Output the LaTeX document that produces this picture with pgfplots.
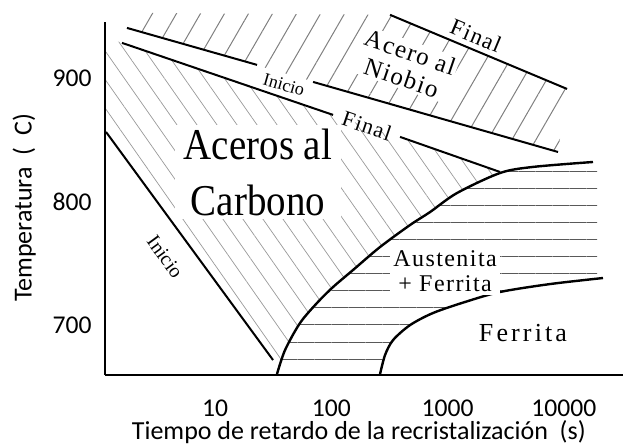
\documentclass[border=0pt]{standalone}
\usepackage{pgfplots}
\pgfplotsset{compat=1.18}
\usepackage{fontspec}
\setmainfont{Carlito}
\newfontfamily\serifL{Liberation Serif}
\newfontfamily\serifLS[LetterSpace=6]{Liberation Serif}
\newfontfamily\serifLW[LetterSpace=12]{Liberation Serif}
\usetikzlibrary{patterns.meta}

\begin{document}
\begin{tikzpicture}
\begin{axis}[
  scale only axis, width=259pt, height=176.5pt,
  xmin=0.054, xmax=4.508, ymin=660, ymax=945.7,
  axis lines=left, axis line style={-, line width=1pt},
  clip=false,
  xtick={1,2,3,4}, xticklabels={10,100,1000,10000},
  ytick={700,800,900},
  major tick length=0pt,
  tick label style={font=\fontsize{12.8}{14}\selectfont},
  /pgf/number format/assume math mode=true,
  xticklabel style={anchor=center, yshift=-16.5pt},
  yticklabel style={anchor=east, inner sep=0pt, xshift=-6.5pt},
  xlabel={Tiempo de retardo de la recristalización\ \ (s)},
  ylabel={Temperatura\ \ (\ \ C)},
  label style={font=\fontsize{13}{14}\selectfont},
  xlabel style={at={(axis description cs:0.49,0)}, anchor=center, yshift=-28.5pt},
  ylabel style={at={(axis description cs:-0.156,0.473)}, anchor=center},
]
\coordinate (O) at (rel axis cs:0,0);

% Niobio hatch
\addplot[draw=none, pattern={Lines[angle=60,distance=10.4pt,line width=0.5pt]}, pattern color=black!50]
  coordinates {(0.243,940.9) (3.949,840.5) (4.027,891.5) (2.505,951.5) (0.355,953.1)} -- cycle;

% Carbon hatch
\addplot[draw=none, pattern={Lines[angle=-55,distance=8.2pt,line width=0.35pt]}, pattern color=black!40]
  coordinates {(0.063,933.2) (2.015,870.5) (3.451,824.3) (3.081,807.3) (2.849,791.9) (2.677,781.4)
   (2.419,763.6) (2.187,745.0) (2.015,731.2) (1.877,718.3) (1.731,702.1) (1.602,680.2) (1.533,660.8)
   (1.499,672.1) (0.063,856.7)} -- cycle;

% Austenita + Ferrita hatch
\addplot[draw=none, pattern={Lines[angle=0,distance=8.5pt,line width=0.5pt]}, pattern color=black!65]
  coordinates {(1.533,660.8) (1.602,680.2) (1.731,702.1) (1.877,718.3) (2.015,731.2) (2.187,745.0)
   (2.419,763.6) (2.677,781.4) (2.849,791.9) (3.081,807.3) (3.451,823.5) (3.734,828.4) (4.250,832.4)
   (4.285,832.2) (4.285,738.0) (3.880,733.6) (3.451,727.2) (3.150,719.1) (2.875,710.2) (2.677,700.4)
   (2.531,688.3) (2.462,676.2) (2.419,660.8)} -- cycle;

% Niobio inicio
\addplot[black, line width=1pt, no marks] coordinates {(0.243,940.9) (1.361,911.0)};
\addplot[black, line width=1pt, no marks] coordinates {(1.843,897.2) (3.949,840.5)};
% Niobio final
\addplot[black, line width=1pt, no marks] coordinates {(2.505,951.5) (4.027,891.5)};
% Carbono final
\addplot[black, line width=1pt, no marks] coordinates {(0.200,928.8) (2.015,870.5)};
\addplot[black, line width=1pt, no marks] coordinates {(2.591,852.7) (3.451,824.3)};
% Carbono inicio
\addplot[black, line width=1pt, no marks] coordinates {(0.063,856.7) (1.499,672.1)};
% Ferrite start
\addplot[black, line width=1.2pt, no marks, smooth] coordinates {(1.533,660.8) (1.602,680.2) (1.731,702.1)
  (1.877,718.3) (2.015,731.2) (2.187,745.0) (2.419,763.6) (2.677,781.4) (2.849,791.9) (3.081,807.3)
  (3.451,823.5) (3.734,828.4) (4.250,832.4)};
% Ferrite finish
\addplot[black, line width=1.2pt, no marks, smooth] coordinates {(2.419,660.8) (2.462,676.2) (2.531,688.3)
  (2.677,700.4) (2.875,710.2) (3.150,719.1) (3.451,727.2) (3.880,733.6) (4.336,738.5)};

% labels
\node[fill=white, inner sep=1.5pt, minimum width=76pt, minimum height=47pt]
  at (axis cs:1.369,823.9) {\scalebox{0.885}[1]{\parbox{90pt}{\centering\serifL\fontsize{22}{28}\selectfont Aceros al\\Carbono}}};
\node[fill=white, align=center, inner sep=1pt, rotate=-19, font=\serifLS\fontsize{12.5}{13.5}\selectfont]
  at (axis cs:2.642,911.0) {Acero al\\Niobio};
\node[rotate=-22.7, font=\serifLS\fontsize{11.5}{12}\selectfont] at (axis cs:3.244,934.5) {Final};
\node[rotate=-18.8, font=\serifLS\fontsize{11}{12}\selectfont] at (axis cs:2.307,861.6) {Final};
\node[rotate=-16, font=\serifL\fontsize{9}{10}\selectfont] at (axis cs:1.593,894.8) {Inicio};
\node[rotate=-54, font=\serifL\fontsize{10}{11}\selectfont] at (axis cs:0.570,755.5) {Inicio};
\node[fill=white, align=center, inner sep=1.5pt, font=\serifLS\fontsize{12}{12.5}\selectfont]
  at (axis cs:2.978,744.2) {Austenita\\+ Ferrita};
\node[font=\serifLW\fontsize{13}{13}\selectfont] at (axis cs:3.648,694.0) {Ferrita};
\end{axis}
\pgfresetboundingbox
\path ([shift={(-52.5pt,-34.5pt)}]O) rectangle ([shift={(260pt,187.5pt)}]O);
\end{tikzpicture}
\end{document}
